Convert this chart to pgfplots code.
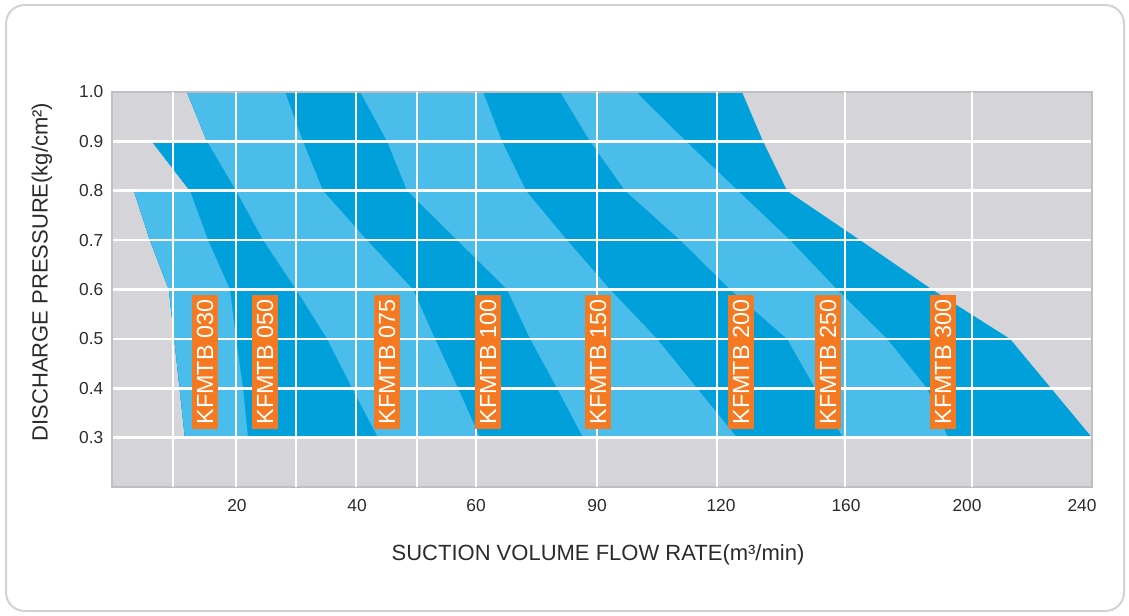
\documentclass[border=0pt]{standalone}
\usepackage{fontspec}
\setmainfont{Liberation Sans}
\usepackage{pgfplots}
\pgfplotsset{compat=1.18}

\definecolor{lb}{HTML}{4BBDEB}
\definecolor{db}{HTML}{00A1DA}
\definecolor{bgg}{HTML}{D4D4D9}
\definecolor{edge}{HTML}{BEBEC3}
\definecolor{org}{HTML}{F47920}
\definecolor{txt}{HTML}{2B2B2B}

\begin{document}
\begin{tikzpicture}
\begin{scope}[x=0.75pt,y=-0.75pt]
  \path[use as bounding box] (0,0) rectangle (1129,615);
  \draw[edge!70, line width=1.5pt, rounded corners=14pt] (6,5) rectangle (1124,611);
\end{scope}

\begin{axis}[
  at={(84pt,-365.25pt)}, anchor=south west,
  scale only axis, width=735pt, height=296.25pt,
  xmin=0, xmax=980, ymin=0.2, ymax=1.0,
  axis background/.style={fill=bgg},
  axis line style={draw=edge, line width=1.5pt},
  axis on top,
  % labels sit a little off the grid lines in the original
  xtick={125,245,364,485,609,734,855,970},
  xticklabels={20,40,60,90,120,160,200,240},
  xmajorgrids=false,
  extra x ticks={61,124,184,244,305,364,485,605,733,860},
  extra x tick labels={},
  extra x tick style={grid=major},
  ytick={0.3,0.4,0.5,0.6,0.7,0.8,0.9,1.0},
  yticklabels={0.3,0.4,0.5,0.6,0.7,0.8,0.9,1.0},
  ymajorgrids=true,
  grid style={white, line width=2pt},
  major tick length=0pt,
  tick label style={font=\fontsize{13}{15}\selectfont, text=txt},
  yticklabel style={xshift=-3pt},
  xticklabel style={yshift=-6pt},
]
% band polygons, drawn from the widest (KFMTB 300) to the narrowest (KFMTB 030)
\addplot[fill=db, draw=none] coordinates {(73,0.3) (57,0.6) (38,0.7) (22,0.8) (78,0.8) (40,0.9) (95,0.9) (75,1.0)
  (630,1.0) (651,0.9) (675,0.8) (748,0.7) (820,0.6) (898,0.5) (980,0.3)};
\addplot[fill=lb, draw=none] coordinates {(73,0.3) (57,0.6) (38,0.7) (22,0.8) (78,0.8) (40,0.9) (95,0.9) (75,1.0)
  (524,1.0) (574,0.9) (626,0.8) (678,0.7) (725,0.6) (775,0.5) (815,0.4) (836,0.3)};
\addplot[fill=db, draw=none] coordinates {(73,0.3) (57,0.6) (38,0.7) (22,0.8) (78,0.8) (40,0.9) (95,0.9) (75,1.0)
  (448,1.0) (478,0.9) (513,0.8) (568,0.7) (618,0.6) (675,0.5) (703,0.4) (731,0.3)};
\addplot[fill=lb, draw=none] coordinates {(73,0.3) (57,0.6) (38,0.7) (22,0.8) (78,0.8) (40,0.9) (95,0.9) (75,1.0)
  (371,1.0) (390,0.9) (414,0.8) (455,0.7) (498,0.6) (545,0.5) (585,0.4) (625,0.3)};
\addplot[fill=db, draw=none] coordinates {(73,0.3) (57,0.6) (38,0.7) (22,0.8) (78,0.8) (40,0.9) (95,0.9) (75,1.0)
  (248,1.0) (275,0.9) (295,0.8) (345,0.7) (395,0.6) (418,0.5) (445,0.4) (471,0.3)};
\addplot[fill=lb, draw=none] coordinates {(73,0.3) (57,0.6) (38,0.7) (22,0.8) (78,0.8) (40,0.9) (95,0.9) (75,1.0)
  (173,1.0) (191,0.9) (211,0.8) (255,0.7) (301,0.6) (323,0.5) (346,0.4) (368,0.3)};
\addplot[fill=db, draw=none] coordinates {(73,0.3) (57,0.6) (38,0.7) (22,0.8) (78,0.8) (40,0.9) (95,0.9)
  (124,0.8) (151,0.7) (184,0.6) (215,0.5) (240,0.4) (266,0.3)};
\addplot[fill=lb, draw=none] coordinates {(73,0.3) (57,0.6) (38,0.7) (22,0.8) (78,0.8)
  (96,0.7) (118,0.6) (124,0.5) (131,0.4) (136,0.3)};

\coordinate (m030) at (axis cs:93,0.453);
\coordinate (m050) at (axis cs:153,0.453);
\coordinate (m075) at (axis cs:275,0.453);
\coordinate (m100) at (axis cs:376,0.453);
\coordinate (m150) at (axis cs:486,0.453);
\coordinate (m200) at (axis cs:629,0.453);
\coordinate (m250) at (axis cs:716,0.453);
\coordinate (m300) at (axis cs:831,0.453);
\end{axis}

\tikzset{model/.style={fill=org, text=white, rotate=90, inner sep=0pt,
  minimum width=100.5pt, minimum height=19.5pt, font=\fontsize{17.5}{18}\selectfont}}
\node[model] at (m030) {KFMTB 030};
\node[model] at (m050) {KFMTB 050};
\node[model] at (m075) {KFMTB 075};
\node[model] at (m100) {KFMTB 100};
\node[model] at (m150) {KFMTB 150};
\node[model] at (m200) {KFMTB 200};
\node[model] at (m250) {KFMTB 250};
\node[model] at (m300) {KFMTB 300};

\begin{scope}[x=0.75pt,y=-0.75pt]
  \node[rotate=90, text=txt, font=\fontsize{16.5}{18}\selectfont] at (42,272) {DISCHARGE PRESSURE(kg/cm²)};
  \node[text=txt, font=\fontsize{16.5}{18}\selectfont] at (598,555) {SUCTION VOLUME FLOW RATE(m³/min)};
\end{scope}
\end{tikzpicture}
\end{document}
